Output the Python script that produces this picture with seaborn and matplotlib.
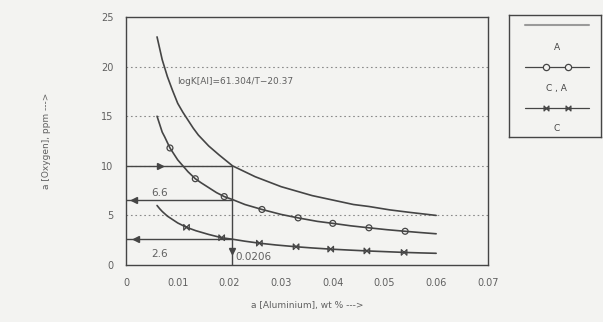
import matplotlib
matplotlib.use("Agg")
import matplotlib.pyplot as plt
import numpy as np
import pandas as pd
import seaborn as sns
from matplotlib.path import Path

# curve A (plain line)
a_x = [0.006, 0.007, 0.008, 0.009, 0.010, 0.011, 0.012, 0.013, 0.014, 0.016, 0.018, 0.0206,
       0.025, 0.028, 0.030, 0.034, 0.036, 0.040, 0.044, 0.047, 0.051, 0.055, 0.060]
a_y = [23.0, 20.7, 19.0, 17.6, 16.3, 15.4, 14.6, 13.8, 13.1, 12.0, 11.1, 10.0,
       8.9, 8.3, 7.9, 7.3, 7.0, 6.55, 6.1, 5.9, 5.56, 5.3, 5.0]

# curve C,A (circles)
ca_x = [0.006, 0.0065, 0.007, 0.0075, 0.0085, 0.010, 0.011, 0.012, 0.0134, 0.0145, 0.016,
        0.0175, 0.019, 0.0206, 0.023, 0.0263, 0.030, 0.0333, 0.037, 0.040, 0.0435, 0.047,
        0.0505, 0.054, 0.057, 0.060]
ca_y = [15.0, 14.2, 13.4, 12.9, 11.8, 10.6, 10.0, 9.4, 8.7, 8.3, 7.8,
        7.3, 6.9, 6.6, 6.1, 5.6, 5.1, 4.75, 4.4, 4.2, 3.95, 3.75,
        3.56, 3.4, 3.27, 3.15]
ca_mx = [0.0085, 0.0134, 0.019, 0.0263, 0.0333, 0.040, 0.047, 0.054]
ca_my = [11.8, 8.7, 6.9, 5.6, 4.75, 4.2, 3.75, 3.4]

# curve C (bowtie markers)
c_x = [0.006, 0.0065, 0.007, 0.008, 0.010, 0.0117, 0.0135, 0.016, 0.0185, 0.0206, 0.023,
       0.0258, 0.029, 0.0329, 0.036, 0.0396, 0.043, 0.0466, 0.050, 0.0538, 0.057, 0.060]
c_y = [6.0, 5.68, 5.4, 4.93, 4.24, 3.8, 3.46, 3.08, 2.75, 2.6, 2.4,
       2.2, 2.02, 1.84, 1.72, 1.6, 1.51, 1.42, 1.35, 1.27, 1.22, 1.18]
c_mx = [0.0117, 0.0185, 0.0258, 0.0329, 0.0396, 0.0466, 0.0538]
c_my = [3.8, 2.75, 2.2, 1.84, 1.6, 1.42, 1.27]

# read-off values
al_read = 0.0206
o_a, o_ca, o_c = 10.0, 6.6, 2.6

x_ticks = [0, 0.01, 0.02, 0.03, 0.04, 0.05, 0.06, 0.07]
x_ticklabels = ["0", "0.01", "0.02", "0.03", "0.04", "0.05", "0.06", "0.07"]
y_ticks = [0, 5, 10, 15, 20, 25]

sns.set_style("white")
plt.rcParams["font.family"] = ["DejaVu Sans"]

bg = "#f3f3f1"
ink = "#454545"
txt = "#606060"

bowtie = Path([(-1, -1), (-1, 1), (1, -1), (1, 1), (-1, -1)],
              [Path.MOVETO, Path.LINETO, Path.LINETO, Path.LINETO, Path.CLOSEPOLY])

fig = plt.figure(figsize=(6.03, 3.22), dpi=100, facecolor=bg)
ax = fig.add_axes([0.209, 0.177, 0.600, 0.770])
ax.set_facecolor(bg)

# dotted grid
for gy in [5, 10, 15, 20]:
    ax.axhline(gy, color="#8a8a8a", lw=0.8, ls=(0, (1.5, 2.5)), zorder=1)

lw = 1.2
for xs, ys in [(a_x, a_y), (ca_x, ca_y), (c_x, c_y)]:
    sns.lineplot(data=pd.DataFrame({"x": xs, "y": ys}), x="x", y="y", ax=ax,
                 color=ink, lw=lw, sort=False, estimator=None, zorder=3)
sns.scatterplot(x=ca_mx, y=ca_my, ax=ax, marker="o", s=18, facecolor="none",
                edgecolor=ink, linewidth=0.9, zorder=4)
sns.scatterplot(x=c_mx, y=c_my, ax=ax, marker=bowtie, s=16, facecolor="none",
                edgecolor=ink, linewidth=0.9, zorder=4)

# read-off lines
ax.plot([0, al_read], [o_a, o_a], color=ink, lw=1.0, zorder=2)
ax.plot([al_read, al_read], [0, o_a], color=ink, lw=1.0, zorder=2)
ax.plot([0, al_read], [o_ca, o_ca], color=ink, lw=1.0, zorder=2)
ax.plot([0, al_read], [o_c, o_c], color=ink, lw=1.0, zorder=2)
ax.plot([0.0066], [o_a], marker=">", color=ink, ms=4, zorder=4)
ax.plot([0.0015], [o_ca], marker="<", color=ink, ms=4, zorder=4)
ax.plot([0.002], [o_c], marker="<", color=ink, ms=4, zorder=4)
ax.plot([al_read], [1.4], marker="v", color=ink, ms=4, zorder=4)

ax.text(0.0048, 7.0, "6.6", fontsize=7.5, color=txt)
ax.text(0.0048, 0.8, "2.6", fontsize=7.5, color=txt)
ax.text(0.0212, 0.5, "0.0206", fontsize=7.5, color=txt)
ax.text(0.0098, 18.3, "logK[Al]=61.304/T\u221220.37", fontsize=6.5, color=txt)

ax.set_xlim(0, 0.07)
ax.set_ylim(0, 25)
ax.set_xticks(x_ticks)
ax.set_xticklabels(x_ticklabels)
ax.set_yticks(y_ticks)
ax.tick_params(direction="out", length=5, width=0.9, color=ink, labelcolor=txt,
               labelsize=7, pad=4)
for s in ax.spines.values():
    s.set_color(ink)
    s.set_linewidth(1.0)
ax.set_xlabel("a [Aluminium], wt % --->", fontsize=6.5, color=txt, labelpad=10)
ax.set_ylabel("a [Oxygen], ppm --->", fontsize=6.5, color=txt, labelpad=36)

# legend box
lax = fig.add_axes([0.844, 0.575, 0.153, 0.378])
lax.set_facecolor(bg)
lax.set_xlim(0, 1)
lax.set_ylim(0, 1)
lax.set_xticks([])
lax.set_yticks([])
for s in lax.spines.values():
    s.set_color(ink)
    s.set_linewidth(1.0)
lax.plot([0.17, 0.87], [0.92, 0.92], color="#9a9a9a", lw=1.5)
lax.text(0.52, 0.73, "A", ha="center", va="center", fontsize=6.5, color=ink)
lax.plot([0.17, 0.87], [0.57, 0.57], color=ink, lw=0.9)
lax.plot([0.4, 0.64], [0.57, 0.57], ls="none", marker="o", ms=4.5, mfc=bg, mec=ink, mew=0.9)
lax.text(0.52, 0.40, "C , A", ha="center", va="center", fontsize=6.5, color=ink)
lax.plot([0.17, 0.87], [0.24, 0.24], color=ink, lw=0.9)
lax.plot([0.4, 0.64], [0.24, 0.24], ls="none", marker=bowtie, ms=3.5, mfc="none", mec=ink, mew=0.9)
lax.text(0.52, 0.07, "C", ha="center", va="center", fontsize=6.5, color=ink)

fig.savefig("out.png", dpi=100, facecolor=bg)
